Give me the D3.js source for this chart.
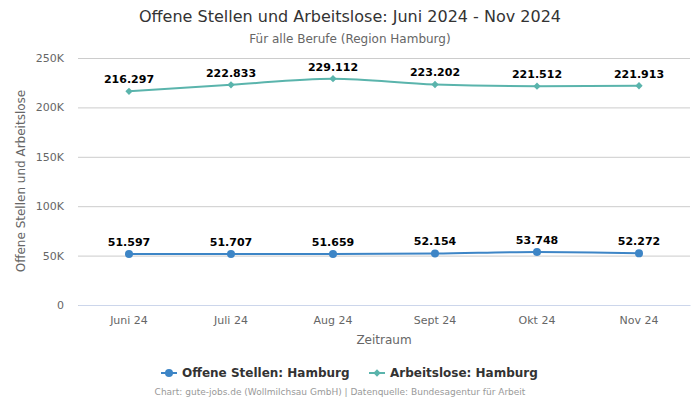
<!DOCTYPE html>
<html><head><meta charset="utf-8">
<script src="https://cdn.jsdelivr.net/npm/d3@7"></script>
<style>body{margin:0;background:#fff;font-family:"DejaVu Sans",sans-serif;}</style>
</head><body><svg id="c" width="700" height="400"></svg>
<script>
const categories = ["Juni 24","Juli 24","Aug 24","Sept 24","Okt 24","Nov 24"];
const offeneStellen = [51597,51707,51659,52154,53748,52272];
const arbeitslose = [216297,222833,229112,223202,221512,221913];
const yTicks = [0,50000,100000,150000,200000,250000];
const yTickLabels = ["0","50K","100K","150K","200K","250K"];
const seriesNames = ["Offene Stellen: Hamburg","Arbeitslose: Hamburg"];
const colors = ["#3d85c6","#5ab4ac"];

const svg = d3.select("#c");
const m = {l:78, r:10, t:58, b:95};
const W = 700, H = 400;
const x = d3.scaleBand().domain(categories).range([m.l, W-m.r]);
const y = d3.scaleLinear().domain([0,250000]).range([305,58]);
const fmt = v => d3.format(",")(v).replace(/,/g,".");

svg.append("text").attr("x",350).attr("y",22).attr("text-anchor","middle")
  .attr("font-size",16).attr("fill","#333").text("Offene Stellen und Arbeitslose: Juni 2024 - Nov 2024");
svg.append("text").attr("x",350).attr("y",43).attr("text-anchor","middle")
  .attr("font-size",12).attr("fill","#666").text("Für alle Berufe (Region Hamburg)");

// grid
const yAxis = d3.axisLeft(y).tickValues(yTicks).tickSize(-(W-m.l-m.r)).tickFormat((d,i)=>yTickLabels[i]);
const gy = svg.append("g").attr("transform",`translate(${m.l},0)`).call(yAxis);
gy.select(".domain").remove();
gy.selectAll(".tick line").attr("stroke","#cccccc");
gy.selectAll(".tick text").attr("x",-14).attr("font-size",11).attr("fill","#666").attr("font-family","DejaVu Sans");

const xAxis = d3.axisBottom(x).tickSize(0).tickPadding(11);
const gx = svg.append("g").attr("transform","translate(0,305)").call(xAxis);
gx.select(".domain").attr("stroke","#ccd6eb");
gx.selectAll(".tick text").attr("font-size",11).attr("fill","#666").attr("font-family","DejaVu Sans");

svg.append("text").attr("transform","translate(25,181) rotate(-90)").attr("text-anchor","middle")
  .attr("font-size",12).attr("fill","#666").text("Offene Stellen und Arbeitslose");
svg.append("text").attr("x",384).attr("y",344).attr("text-anchor","middle")
  .attr("font-size",12).attr("fill","#666").text("Zeitraum");

const cx = d => x(d) + x.bandwidth()/2;
const line = d3.line().curve(d3.curveMonotoneX).x(d=>cx(d.c)).y(d=>y(d.v));

[offeneStellen, arbeitslose].forEach((vals,si)=>{
  const data = vals.map((v,i)=>({c:categories[i], v}));
  svg.append("path").datum(data).attr("d",line).attr("fill","none")
    .attr("stroke",colors[si]).attr("stroke-width",2);
  if (si===0) {
    svg.selectAll(null).data(data).enter().append("circle")
      .attr("cx",d=>cx(d.c)).attr("cy",d=>y(d.v)).attr("r",4).attr("fill",colors[si]);
  } else {
    svg.selectAll(null).data(data).enter().append("path")
      .attr("d",d3.symbol(d3.symbolDiamond2, 34)).attr("transform",d=>`translate(${cx(d.c)},${y(d.v)})`).attr("fill",colors[si]);
  }
  svg.selectAll(null).data(data).enter().append("text")
    .attr("x",d=>cx(d.c)).attr("y",d=>y(d.v)-8).attr("text-anchor","middle")
    .attr("font-size",11).attr("font-weight","bold").attr("fill","#000")
    .attr("stroke","#fff").attr("stroke-width",3).attr("paint-order","stroke")
    .text(d=>fmt(d.v));
});

// legend
const lg = [{x:161, name:seriesNames[0]},{x:369, name:seriesNames[1]}];
lg.forEach((l,i)=>{
  const g = svg.append("g").attr("transform",`translate(${l.x},373)`);
  g.append("line").attr("x1",0).attr("x2",16).attr("stroke",colors[i]).attr("stroke-width",2);
  if (i===0) g.append("circle").attr("cx",8).attr("r",4).attr("fill",colors[i]);
  else g.append("path").attr("d",d3.symbol(d3.symbolDiamond2,34)).attr("transform","translate(8,0)").attr("fill",colors[i]);
  g.append("text").attr("x",21).attr("y",4).attr("font-size",12).attr("font-weight","bold").attr("fill","#333").text(l.name);
});

svg.append("text").attr("x",340).attr("y",395).attr("text-anchor","middle")
  .attr("font-size",9).attr("fill","#999").text("Chart: gute-jobs.de (Wollmilchsau GmbH) | Datenquelle: Bundesagentur für Arbeit");
</script></body></html>
